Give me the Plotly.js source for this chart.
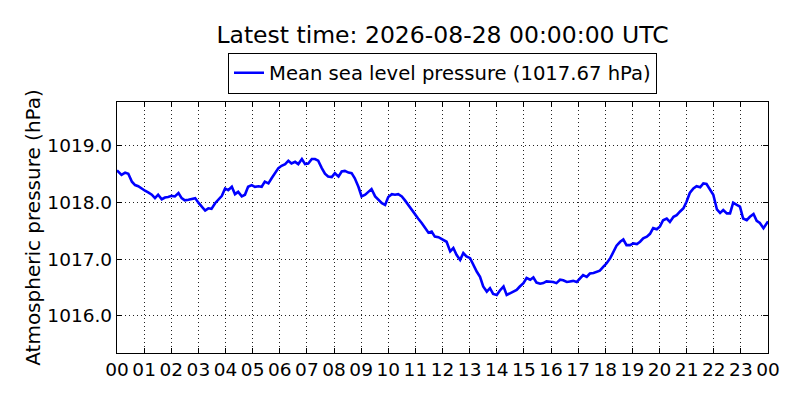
<!DOCTYPE html>
<html>
<head>
<meta charset="utf-8">
<script src="https://cdn.plot.ly/plotly-3.0.1.min.js"></script>
<style>
  html, body { margin: 0; padding: 0; background: #fff; }
  #plot { width: 800px; height: 400px; }
</style>
</head>
<body>
<div id="plot"></div>
<script>
// minutes after 2026-08-27 00:00 UTC
const minutes = [
  0, 3, 10, 18, 25, 33, 40, 47, 55, 62, 69, 77, 84, 91, 99, 106, 113, 121, 128, 136,
  143, 150, 158, 165, 173, 180, 187, 195, 202, 209, 217, 224, 232, 239, 246, 254, 261, 268, 276, 283,
  290, 298, 305, 313, 320, 327, 335, 342, 349, 357, 364, 372, 379, 386, 394, 401, 409, 416, 423, 431,
  438, 445, 453, 460, 467, 475, 482, 490, 497, 504, 512, 519, 526, 534, 541, 549, 556, 563, 571, 578,
  586, 593, 600, 608, 615, 622, 630, 637, 644, 652, 659, 666, 674, 681, 689, 696, 703, 711, 722, 729,
  737, 744, 751, 759, 766, 773, 781, 788, 796, 803, 810, 818, 825, 832, 840, 847, 855, 862, 869, 877,
  884, 891, 899, 906, 914, 921, 928, 936, 943, 950, 958, 965, 972, 980, 987, 995, 1002, 1009, 1017, 1024,
  1031, 1039, 1046, 1054, 1061, 1068, 1076, 1083, 1091, 1098, 1105, 1113, 1120, 1127, 1135, 1142, 1150, 1157, 1164, 1172,
  1179, 1186, 1194, 1201, 1208, 1216, 1223, 1231, 1238, 1245, 1253, 1260, 1267, 1275, 1282, 1290, 1297, 1304, 1312, 1319,
  1327, 1334, 1341, 1349, 1356, 1363, 1371, 1378, 1385, 1393, 1400, 1408, 1415, 1422, 1430, 1437, 1440
];

const pressure = [
  1018.57, 1018.55, 1018.49, 1018.53, 1018.51, 1018.37, 1018.31, 1018.29, 1018.24, 1018.21, 1018.18, 1018.14, 1018.08, 1018.14, 1018.06, 1018.09, 1018.10, 1018.12, 1018.11, 1018.17,
  1018.08, 1018.04, 1018.05, 1018.06, 1018.08, 1018.00, 1017.93, 1017.86, 1017.90, 1017.89, 1017.99, 1018.06, 1018.12, 1018.25, 1018.22, 1018.28, 1018.15, 1018.19, 1018.11, 1018.14,
  1018.28, 1018.31, 1018.28, 1018.29, 1018.28, 1018.37, 1018.34, 1018.43, 1018.52, 1018.61, 1018.65, 1018.68, 1018.74, 1018.69, 1018.72, 1018.68, 1018.77, 1018.68, 1018.69, 1018.77,
  1018.77, 1018.74, 1018.61, 1018.51, 1018.46, 1018.45, 1018.52, 1018.46, 1018.55, 1018.56, 1018.53, 1018.52, 1018.43, 1018.28, 1018.11, 1018.14, 1018.19, 1018.24, 1018.11, 1018.06,
  1017.99, 1017.96, 1018.10, 1018.15, 1018.14, 1018.15, 1018.11, 1018.04, 1017.96, 1017.87, 1017.78, 1017.72, 1017.64, 1017.57, 1017.47, 1017.49, 1017.40, 1017.39, 1017.34, 1017.31,
  1017.14, 1017.20, 1017.08, 1016.99, 1017.11, 1017.05, 1017.02, 1016.90, 1016.78, 1016.69, 1016.52, 1016.43, 1016.49, 1016.39, 1016.37, 1016.45, 1016.52, 1016.37, 1016.40, 1016.43,
  1016.46, 1016.52, 1016.58, 1016.67, 1016.64, 1016.68, 1016.59, 1016.57, 1016.58, 1016.61, 1016.61, 1016.60, 1016.58, 1016.64, 1016.63, 1016.60, 1016.61, 1016.62, 1016.60, 1016.66,
  1016.72, 1016.69, 1016.75, 1016.76, 1016.78, 1016.80, 1016.87, 1016.93, 1017.02, 1017.14, 1017.24, 1017.31, 1017.35, 1017.25, 1017.25, 1017.28, 1017.27, 1017.31, 1017.37, 1017.40,
  1017.45, 1017.55, 1017.53, 1017.58, 1017.69, 1017.72, 1017.66, 1017.75, 1017.78, 1017.84, 1017.90, 1018.02, 1018.17, 1018.25, 1018.29, 1018.27, 1018.34, 1018.33, 1018.22, 1018.14,
  1017.88, 1017.82, 1017.87, 1017.81, 1017.81, 1018.00, 1017.96, 1017.93, 1017.72, 1017.69, 1017.75, 1017.80, 1017.68, 1017.64, 1017.55, 1017.64, 1017.67
];

const latestLabel = 'Latest time: 2026-08-28 00:00:00 UTC';
const seriesName = 'Mean sea level pressure (1017.67 hPa)';
const yTickVals = [1016, 1017, 1018, 1019];

const dayStart = Date.UTC(2026, 7, 27);
const times = minutes.map(m => dayStart + m * 60000);

const trace = {
  x: times,
  y: pressure,
  type: 'scatter',
  mode: 'lines',
  name: seriesName,
  line: { color: '#0000ff', width: 2.6 },
};

const family = 'DejaVu Sans, sans-serif';
const tickFont = { family: family, size: 18.5, color: '#000' };
const labelFont = { family: family, size: 20, color: '#000' };

const layout = {
  width: 800,
  height: 400,
  font: labelFont,
  paper_bgcolor: '#fff',
  plot_bgcolor: '#fff',
  margin: { l: 117, r: 32, t: 102, b: 47 },
  title: {
    text: latestLabel,
    font: { family: family, size: 23.5, color: '#000' },
    x: 0.5,
    xref: 'paper',
    xanchor: 'center',
    y: 0.912,
    yref: 'container',
    yanchor: 'middle',
  },
  showlegend: true,
  legend: {
    x: 0.5,
    xanchor: 'center',
    y: 1.197,
    yanchor: 'top',
    bordercolor: '#000',
    borderwidth: 1,
    bgcolor: '#fff',
    font: { family: family, size: 19.6, color: '#000' },
  },
  xaxis: {
    type: 'date',
    range: [dayStart, dayStart + 24 * 3600000],
    dtick: 3600000,
    tick0: dayStart,
    tickformat: '%H',
    tickangle: 0,
    ticks: 'inside',
    ticklen: 5,
    tickcolor: '#000',
    showline: true,
    linecolor: '#000',
    linewidth: 1.2,
    mirror: 'ticks',
    showgrid: true,
    gridcolor: '#222',
    griddash: '1px,3px',
    gridwidth: 1,
    zeroline: false,
    tickfont: tickFont,
    fixedrange: true,
  },
  yaxis: {
    range: [1015.347, 1019.776],
    tickvals: yTickVals,
    tickformat: '.1f',
    ticks: 'inside',
    ticklen: 5,
    tickcolor: '#000',
    showline: true,
    linecolor: '#000',
    linewidth: 1.2,
    mirror: 'ticks',
    showgrid: true,
    gridcolor: '#222',
    griddash: '1px,3px',
    gridwidth: 1,
    zeroline: false,
    tickfont: tickFont,
    title: { text: 'Atmospheric pressure (hPa)', font: labelFont },
    fixedrange: true,
  },
};

Plotly.newPlot('plot', [trace], layout, { displayModeBar: false, staticPlot: true });
</script>
</body>
</html>
